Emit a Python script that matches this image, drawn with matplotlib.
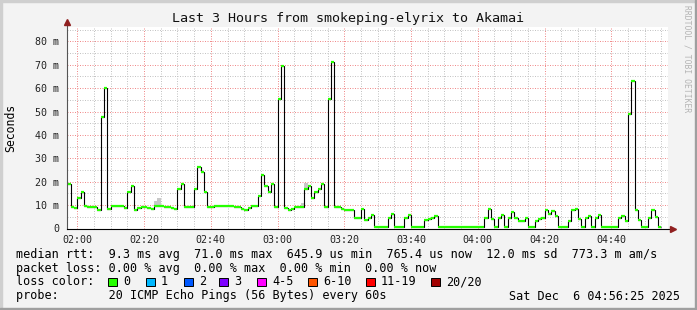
import numpy as np
import matplotlib
matplotlib.use("Agg")
import matplotlib.pyplot as plt
from matplotlib.patches import Rectangle

plt.rcParams['font.family'] = ['DejaVu Sans Mono']

# median rtt per minute (ms), first step starts 01:57
median_ms = [
    19.0, 9.3, 8.8, 13.0, 15.5, 9.7, 9.3, 9.3, 9.0, 7.8,
    47.6, 60.2, 8.5, 9.7, 9.7, 9.7, 9.7, 8.8, 15.6, 18.3,
    7.8, 8.6, 9.3, 9.3, 8.8, 8.5, 9.7, 9.7, 9.7, 9.3,
    9.3, 8.8, 8.5, 17.0, 19.0, 9.3, 9.3, 9.3, 17.0, 26.4,
    24.0, 15.5, 9.3, 9.3, 9.7, 9.7, 9.7, 9.7, 9.7, 9.7,
    9.3, 9.0, 8.5, 7.8, 8.8, 9.7, 9.7, 14.0, 22.8, 18.3,
    15.6, 19.0, 9.3, 55.5, 69.6, 8.8, 7.8, 8.5, 9.3, 9.3,
    9.3, 17.0, 18.3, 13.0, 15.6, 17.0, 19.0, 9.3, 55.5, 71.2,
    9.3, 9.3, 8.5, 7.8, 7.8, 7.8, 4.6, 4.6, 8.2, 3.6,
    4.6, 5.9, 0.8, 0.8, 0.8, 0.8, 4.6, 6.2, 0.8, 0.8,
    0.8, 4.6, 5.9, 0.8, 0.8, 0.8, 0.8, 3.5, 3.9, 4.6,
    5.5, 0.8, 0.8, 0.8, 0.8, 0.8, 0.8, 0.8, 0.8, 0.8,
    0.8, 0.8, 0.8, 0.8, 0.8, 4.6, 8.2, 4.2, 0.8, 4.6,
    5.9, 0.8, 4.6, 6.9, 4.6, 3.4, 3.4, 4.6, 0.8, 0.8,
    3.4, 4.2, 4.6, 7.9, 6.2, 7.5, 5.5, 0.8, 0.8, 0.8,
    3.4, 7.8, 8.2, 4.2, 0.8, 4.6, 5.5, 0.8, 4.6, 5.9,
    0.8, 0.8, 0.8, 0.8, 0.8, 4.6, 5.5, 3.4, 48.9, 63.0,
    7.9, 3.6, 0.8, 0.8, 4.6, 7.9, 5.0, 0.8,
]
start_minute = 117  # minutes after midnight

# a few visible smoke patches (index, top in ms)
smoke_idx = [26, 27, 70, 71]
smoke_top = [11.9, 12.9, 11.0, 19.3]

x_major = [120, 140, 160, 180, 200, 220, 240, 260, 280]
x_labels = ["02:00", "02:20", "02:40", "03:00", "03:20", "03:40", "04:00", "04:20", "04:40"]
y_major = [0, 10, 20, 30, 40, 50, 60, 70, 80]
y_labels = ["0", "10 m", "20 m", "30 m", "40 m", "50 m", "60 m", "70 m", "80 m"]

loss_names = ["0", "1", "2", "3", "4-5", "6-10", "11-19", "20/20"]
loss_colors = ["#26ff00", "#00b8ff", "#0059ff", "#7e00ff", "#ff00ff", "#ff5500", "#ff0000", "#a10000"]
loss_box_x = [108, 146, 184, 219, 257, 308, 366, 431]

rtt_line = "median rtt:  9.3 ms avg  71.0 ms max  645.9 us min  765.4 us now  12.0 ms sd  773.3 m am/s"
loss_line = "packet loss: 0.00 % avg  0.00 % max  0.00 % min  0.00 % now"
probe_line = "probe:       20 ICMP Echo Pings (56 Bytes) every 60s"
date_text = "Sat Dec  6 04:56:25 2025"

W, H = 697, 310


def fx(x):
    return x / W


def fy(y):
    return 1 - y / H


fig = plt.figure(figsize=(W / 100, H / 100), dpi=100, facecolor="#f3f3f3")

# frame
fig.patches.append(Rectangle((0, fy(2)), 1, 2 / H, transform=fig.transFigure, color="#cfcfcf", zorder=0))
fig.patches.append(Rectangle((0, 0), 2 / W, 1, transform=fig.transFigure, color="#cfcfcf", zorder=0))
fig.patches.append(Rectangle((0, 0), 1, 2 / H, transform=fig.transFigure, color="#9f9f9f", zorder=0))
fig.patches.append(Rectangle((1 - 2 / W, 0), 2 / W, 1, transform=fig.transFigure, color="#9f9f9f", zorder=0))

ax = fig.add_axes([fx(67), fy(228.5), fx(601), 201.5 / H])
ax.set_facecolor("white")
ax.set_xlim(116.9, 297.0)
ax.set_ylim(0, 201.5 / 2.34)

for s in ax.spines.values():
    s.set_visible(False)

ax.set_xticks(x_major)
ax.set_xticklabels(x_labels)
ax.set_xticks([m for m in range(120, 297, 5) if m % 20], minor=True)
ax.set_yticks(y_major)
ax.set_yticklabels(y_labels)
ax.set_yticks([v for v in range(5, 86, 10)], minor=True)
ax.tick_params(which="both", length=0, labelsize=7.2, colors="#222222")
ax.tick_params(axis="x", pad=4.5)
ax.tick_params(axis="y", pad=5.5)

ax.grid(which="minor", color="#c4c4c4", lw=0.72, ls=(0, (1, 1.5)))
ax.grid(which="major", color="#f08c8c", lw=0.72, ls=(0, (1, 1.5)))
ax.set_axisbelow(True)

vals = np.array(median_ms)
edges = start_minute + np.arange(len(vals) + 1)

# smoke
sm_i = np.array(smoke_idx)
ax.bar(edges[sm_i], np.array(smoke_top) - vals[sm_i], bottom=vals[sm_i], width=1,
       align="edge", color="#c8c8c8", lw=0, zorder=2)

ax.stairs(vals, edges, baseline=None, color="black", lw=0.8, zorder=3)
ax.hlines(vals, edges[:-1], edges[1:], color=loss_colors[0], lw=1.6, zorder=4)

# axes with arrows
ax.plot([0, 0], [0, 1.02], transform=ax.transAxes, color="#555555", lw=0.8, clip_on=False, zorder=5)
ax.plot([0, 1.003], [0, 0], transform=ax.transAxes, color="black", lw=0.8, clip_on=False, zorder=5)
ax.plot([0], [1.025], transform=ax.transAxes, marker="^", ms=4, color="#902020", clip_on=False, zorder=6)
ax.plot([1.008], [0], transform=ax.transAxes, marker=">", ms=4, color="#902020", clip_on=False, zorder=6)

fig.text(fx(348.5), fy(18.5), "Last 3 Hours from smokeping-elyrix to Akamai",
         ha="center", va="center", fontsize=9.6, color="#111111")
fig.text(fx(11), fy(127.5), "Seconds", rotation=90, ha="center", va="center", fontsize=8.3)
fig.text(fx(687), fy(5), "RRDTOOL / TOBI OETIKER", rotation=270, ha="center", va="top",
         fontsize=5.8, color="#b4b4b4")

fs = 8.5
fig.text(fx(16), fy(254.3), rtt_line, ha="left", va="center", fontsize=fs)
fig.text(fx(16), fy(268.3), loss_line, ha="left", va="center", fontsize=fs)
fig.text(fx(16), fy(281.7), "loss color:", ha="left", va="center", fontsize=fs)
fig.text(fx(16), fy(296), probe_line, ha="left", va="center", fontsize=fs)
fig.text(fx(680), fy(296), date_text, ha="right", va="center", fontsize=fs)

for bx, name, col in zip(loss_box_x, loss_names, loss_colors):
    fig.patches.append(Rectangle((fx(bx), fy(286)), 8.5 / W, 8.5 / H, transform=fig.transFigure,
                                 facecolor=col, edgecolor="black", lw=0.7))
    fig.text(fx(bx + 15), fy(281.7), name, ha="left", va="center", fontsize=fs)

fig.savefig("out.png", dpi=100, facecolor=fig.get_facecolor())
